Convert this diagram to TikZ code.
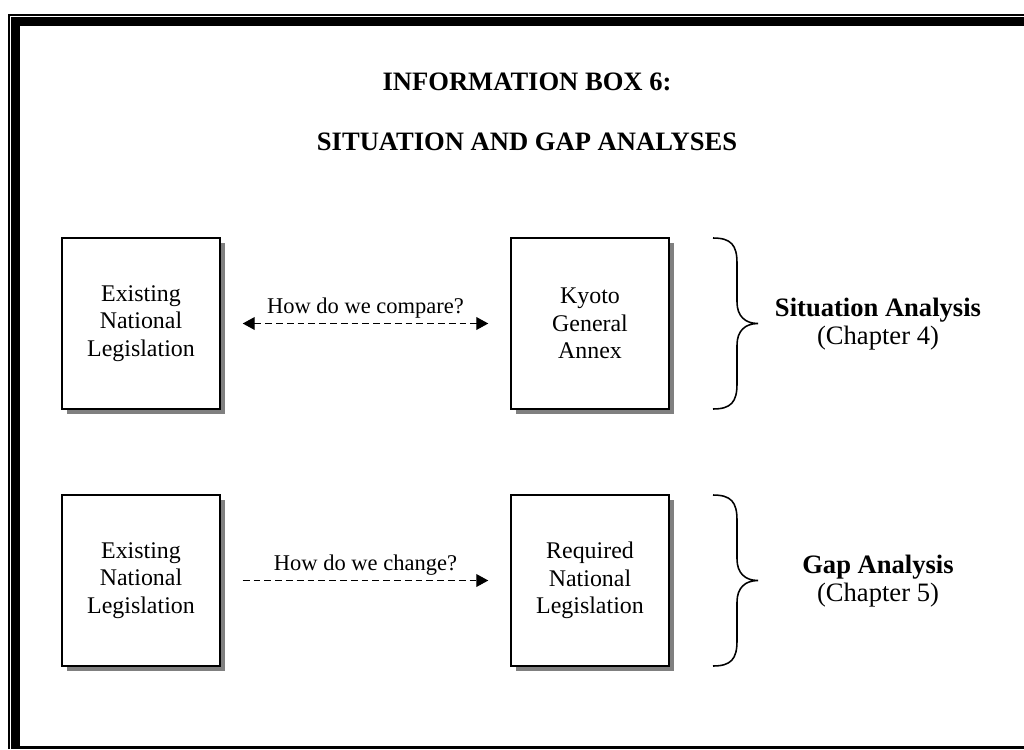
\documentclass[tikz,border=0pt]{standalone}
\usepackage{fontspec}
\setmainfont{Liberation Serif}
\usetikzlibrary{arrows.meta,shadows}
\newcommand{\BoxFont}{\fontsize{17}{19.6}\selectfont}
\newcommand{\HeadFont}{\fontsize{18.9}{21.5}\selectfont\bfseries}
\newcommand{\SideFont}{\fontsize{18.9}{20}\selectfont}
\newcommand{\ArrowFont}{\fontsize{16}{18}\selectfont}
\tikzset{
  >={Triangle[length=0.3cm,width=0.32cm]},
  legbox/.style={draw, line width=1pt, fill=white, align=center,
    minimum width=3.95cm, minimum height=4.275cm, font=\BoxFont,
    drop shadow={shadow xshift=0.12cm, shadow yshift=-0.12cm,
      fill=black!50, opacity=1}},
  gaparrow/.style={dash pattern=on 0.17cm off 0.1cm, line width=0.9pt,
    shorten <=0.55cm, shorten >=0.55cm},
  sidebrace/.style={line width=1.1pt}
}
\begin{document}
\begin{tikzpicture}[x=0.025cm,y=-0.025cm]
\useasboundingbox (0,0) rectangle (1024,749);
% frame
\draw[line width=1.1pt] (9,749) -- (9,14.8) -- (1024,14.8);
\fill (11,17) rectangle (20,747);
\fill (11,17) rectangle (1024,26);
\fill (11,746) rectangle (1024,749);

\node (Title-1) at (527,82)  {\HeadFont INFORMATION BOX 6:};
\node (Title-2) at (527,142) {\HeadFont SITUATION AND GAP ANALYSES};

\node[legbox] (Exist-1) at (141,323.5) {Existing\\National\\Legislation};
\node[legbox] (Kyoto)   at (590,323.5) {Kyoto\\General\\Annex};
\node[legbox] (Exist-2) at (141,580.5) {Existing\\National\\Legislation};
\node[legbox] (Req)     at (590,580.5) {Required\\National\\Legislation};

\node[align=center,font=\SideFont] (Sit) at (878,324)
     {\textbf{Situation Analysis}\\(Chapter 4)};
\node[align=center,font=\SideFont] (Gap) at (878,581)
     {\textbf{Gap Analysis}\\(Chapter 5)};

\path[<->,gaparrow] (Exist-1) edge node[above,font=\ArrowFont]
     {How do we compare?} (Kyoto);
\path[->,gaparrow] (Exist-2) edge node[above,font=\ArrowFont]
     {How do we change?} (Req);

% braces
\draw[sidebrace] (713,238) .. controls (731,238) and (737,245) .. (737,263)
  -- (737,302) .. controls (737,316) and (745,323.5) .. (758,323.5)
  .. controls (745,323.5) and (737,331) .. (737,345)
  -- (737,384) .. controls (737,402) and (731,409) .. (713,409);
\draw[sidebrace] (713,495) .. controls (731,495) and (737,502) .. (737,520)
  -- (737,559) .. controls (737,573) and (745,580.5) .. (758,580.5)
  .. controls (745,580.5) and (737,588) .. (737,602)
  -- (737,641) .. controls (737,659) and (731,666) .. (713,666);
\end{tikzpicture}
\end{document}
